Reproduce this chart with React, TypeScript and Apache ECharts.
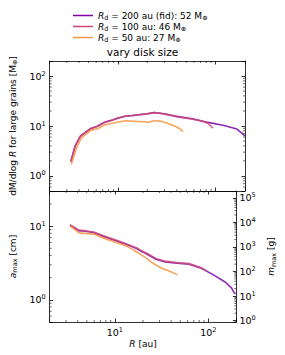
import React, { useEffect, useRef } from 'react';
import * as echarts from 'echarts';

const FONT = 'DejaVu Sans';
const NAMES = ['Rd200', 'Rd100', 'Rd50'];
const COLORS = ['#7e03a8', '#cc4778', '#f89540'];
const LEGEND_LABELS = [
  '{i|R}{sub|d}{t| = 200 au (fid): 52 M}{sub|⊕}',
  '{i|R}{sub|d}{t| = 100 au: 46 M}{sub|⊕}',
  '{i|R}{sub|d}{t| = 50 au: 27 M}{sub|⊕}',
];
const TITLE = 'vary disk size';

// top panel: dM/dlog R for large grains [M_earth]
const r200Top = [3.3, 3.64, 4.13, 4.56, 5.28, 6.14, 7.4, 8.94, 10, 12, 14, 17, 20, 23.6, 29.5, 40, 58, 84, 122, 165, 187, 200];
const dm200 = [1.95, 3.96, 6.25, 7.3, 8.9, 9.9, 12.0, 13.3, 14.4, 15.8, 16.2, 17.0, 17.6, 18.6, 17.6, 15.6, 14.0, 11.8, 10.2, 8.7, 7.1, 6.3];
const r100Top = [3.3, 3.64, 4.13, 4.56, 5.28, 6.14, 7.4, 8.94, 10, 12, 14, 17, 20, 23.6, 29.5, 40, 58, 72, 84, 94];
const dm100 = [1.9, 3.9, 6.2, 7.2, 8.8, 9.8, 11.9, 13.2, 14.3, 15.7, 16.1, 16.9, 17.5, 18.5, 17.5, 15.4, 13.7, 12.6, 11.2, 9.1];
const r50Top = [3.33, 3.78, 4.23, 5.28, 6.14, 7.4, 8.94, 12, 15.1, 18.9, 20.3, 23.6, 27.5, 31.8, 38.5, 43, 46.4];
const dm50 = [1.72, 3.69, 5.8, 8.2, 8.75, 10.6, 11.5, 12.7, 12.4, 12.2, 11.8, 12.9, 12.4, 11.5, 9.9, 8.8, 7.7];

// bottom panel: a_max [cm]
const r200Bot = [3.3, 4.13, 4.56, 5.92, 7.69, 11.2, 14, 17.5, 18.9, 21.9, 27.5, 34.4, 46.4, 62.4, 84.3, 113.8, 153, 178, 189, 196];
const a200 = [10.3, 8.64, 8.6, 8.2, 7.2, 6.1, 5.5, 4.9, 4.6, 4.18, 3.55, 3.26, 3.13, 3.04, 2.68, 2.18, 1.73, 1.44, 1.25, 1.2];
const r100Bot = [3.3, 4.13, 4.56, 5.92, 7.69, 11.2, 14, 17.5, 18.9, 21.9, 27.5, 34.4, 46.4, 62.4, 84.3, 94];
const a100 = [10.5, 8.8, 8.75, 8.35, 7.35, 6.25, 5.6, 5.0, 4.7, 4.3, 3.65, 3.35, 3.2, 3.1, 2.72, 2.5];
const r50Bot = [3.33, 4.13, 5.92, 7.69, 11.2, 14, 17, 18.9, 21.9, 25.5, 31.8, 39.8, 47];
const a50 = [10.0, 8.1, 7.8, 6.8, 5.8, 5.2, 4.5, 4.1, 3.66, 3.13, 2.68, 2.41, 2.18];

// axis ranges
const X_RANGE = [2, 200];
const Y_TOP_RANGE = [0.5, 200];
const A_RANGE = [0.5, 30];
const M_RANGE = [0.877, 1.894e5];

const pairs = (xs: number[], ys: number[]) => xs.map((x, i) => [x, ys[i]]);

const minorTicks = (min: number, max: number) => {
  const out: number[] = [];
  for (let e = Math.floor(Math.log10(min)); e <= Math.ceil(Math.log10(max)); e++) {
    for (let m = 2; m <= 9; m++) {
      const v = m * Math.pow(10, e);
      if (v > min * 1.0001 && v < max * 0.9999) out.push(v);
    }
  }
  return out;
};

const powLabel = (v: number) => {
  const l = Math.log10(v);
  const e = Math.round(l);
  if (Math.abs(l - e) > 1e-6) return '';
  return `{b|10}{sup|${e}}`;
};

const tickRich = {
  b: { fontSize: 9.5, fontFamily: FONT, color: '#000', lineHeight: 12 },
  sup: { fontSize: 6.5, fontFamily: FONT, color: '#000', verticalAlign: 'top', lineHeight: 12 },
};
const nameRich = {
  t: { fontSize: 9, fontFamily: FONT, color: '#000', lineHeight: 12 },
  i: { fontSize: 9, fontFamily: FONT, color: '#000', fontStyle: 'italic', lineHeight: 12 },
  sub: { fontSize: 6.5, fontFamily: FONT, color: '#000', verticalAlign: 'bottom', lineHeight: 12 },
};
const legendRich = {
  t: { fontSize: 9, fontFamily: FONT, color: '#000', lineHeight: 11 },
  i: { fontSize: 9, fontFamily: FONT, color: '#000', fontStyle: 'italic', lineHeight: 11 },
  sub: { fontSize: 6.5, fontFamily: FONT, color: '#000', verticalAlign: 'bottom', lineHeight: 11 },
};

const baseAxis = (extra: any) => ({
  type: 'log',
  logBase: 10,
  axisLine: { show: true, onZero: false, lineStyle: { color: '#000', width: 0.8 } },
  axisTick: { show: true, inside: true, length: 3.5, lineStyle: { color: '#000', width: 0.8 } },
  axisLabel: { show: false },
  splitLine: { show: false },
  ...extra,
});

const tickSeries = (xAxisIndex: number, yAxisIndex: number, xt: number[], yt: number[], sidesX: number, sidesY: number, xMid: number, yMid: number) => ({
  type: 'custom',
  xAxisIndex,
  yAxisIndex,
  silent: true,
  clip: false,
  data: [
    ...xt.map((v) => [v, yMid, sidesX, 0]),
    ...yt.map((v) => [xMid, v, sidesY, 1]),
  ],
  encode: { x: 0, y: 1 },
  renderItem: (params: any, api: any) => {
    const cs = params.coordSys;
    const sides = api.value(2);
    const isY = api.value(3) === 1;
    const p = api.coord([api.value(0), api.value(1)]);
    const L = 2;
    const style = { stroke: '#000', lineWidth: 0.6 };
    const children: any[] = [];
    if (!isY) {
      const x = p[0];
      if (sides & 1) children.push({ type: 'line', shape: { x1: x, y1: cs.y + cs.height, x2: x, y2: cs.y + cs.height - L }, style });
      if (sides & 2) children.push({ type: 'line', shape: { x1: x, y1: cs.y, x2: x, y2: cs.y + L }, style });
    } else {
      const y = p[1];
      if (sides & 4) children.push({ type: 'line', shape: { x1: cs.x, y1: y, x2: cs.x + L, y2: y }, style });
      if (sides & 8) children.push({ type: 'line', shape: { x1: cs.x + cs.width, y1: y, x2: cs.x + cs.width - L, y2: y }, style });
    }
    return { type: 'group', children };
  },
});

const lineSeries = (name: string, color: string, data: number[][], xAxisIndex: number, yAxisIndex: number) => ({
  type: 'line',
  name,
  data,
  xAxisIndex,
  yAxisIndex,
  symbol: 'none',
  lineStyle: { color, width: 1.6, opacity: 0.85 },
  itemStyle: { color },
  emphasis: { disabled: true },
});

const legendFor = (i: number, top: number) => ({
  data: [NAMES[i]],
  orient: 'vertical',
  left: 73,
  top,
  padding: 0,
  itemWidth: 20,
  itemHeight: 1.5,
  itemGap: 0,
  icon: 'rect',
  selectedMode: false,
  formatter: (name: string) => LEGEND_LABELS[NAMES.indexOf(name)],
  textStyle: { fontSize: 9, fontFamily: FONT, color: '#000', lineHeight: 11, rich: legendRich },
});

export default function App() {
  const ref = useRef<HTMLDivElement>(null);
  useEffect(() => {
    if (!ref.current) return;
    const chart = echarts.init(ref.current, undefined, { renderer: 'svg' });
    const xMinor = minorTicks(X_RANGE[0], X_RANGE[1]);
    const option: any = {
      animation: false,
      backgroundColor: '#fff',
      title: {
        text: TITLE,
        left: 'center',
        top: 41,
        textStyle: { fontSize: 10.5, fontWeight: 'normal', fontFamily: FONT, color: '#000' },
      },
      legend: [legendFor(0, 10), legendFor(1, 21), legendFor(2, 32)],
      grid: [
        { left: 40, top: 61, width: 205, height: 130 },
        { left: 40, top: 191, width: 205, height: 131 },
      ],
      xAxis: [
        baseAxis({ gridIndex: 0, position: 'bottom', min: X_RANGE[0], max: X_RANGE[1] }),
        baseAxis({ gridIndex: 0, position: 'top', min: X_RANGE[0], max: X_RANGE[1] }),
        baseAxis({
          gridIndex: 1, position: 'bottom', min: X_RANGE[0], max: X_RANGE[1],
          axisLabel: { show: true, formatter: powLabel, rich: tickRich, margin: 4 },
          name: '{i|R}{t| [au]}', nameLocation: 'middle', nameGap: 16,
          nameTextStyle: { rich: nameRich },
        }),
        baseAxis({ gridIndex: 1, position: 'top', min: X_RANGE[0], max: X_RANGE[1] }),
      ],
      yAxis: [
        baseAxis({
          gridIndex: 0, position: 'left', min: Y_TOP_RANGE[0], max: Y_TOP_RANGE[1],
          axisLabel: { show: true, formatter: powLabel, rich: tickRich, margin: 4 },
          name: '{t|dM/dlog }{i|R}{t| for large grains [M}{sub|⊕}{t|]}', nameLocation: 'middle', nameGap: 22,
          nameTextStyle: { rich: nameRich },
        }),
        baseAxis({ gridIndex: 0, position: 'right', min: Y_TOP_RANGE[0], max: Y_TOP_RANGE[1] }),
        baseAxis({
          gridIndex: 1, position: 'left', min: A_RANGE[0], max: A_RANGE[1],
          axisLabel: { show: true, formatter: powLabel, rich: tickRich, margin: 4 },
          name: '{i|a}{sub|max}{t| [cm]}', nameLocation: 'middle', nameGap: 22,
          nameTextStyle: { rich: nameRich },
        }),
        baseAxis({
          gridIndex: 1, position: 'right', min: M_RANGE[0], max: M_RANGE[1],
          axisLabel: { show: true, formatter: powLabel, rich: tickRich, margin: 3 },
          name: '{i|m}{sub|max}{t| [g]}', nameLocation: 'middle', nameGap: 22,
          nameTextStyle: { rich: nameRich },
        }),
      ],
      series: [
        lineSeries(NAMES[0], COLORS[0], pairs(r200Top, dm200), 0, 0),
        lineSeries(NAMES[1], COLORS[1], pairs(r100Top, dm100), 0, 0),
        lineSeries(NAMES[2], COLORS[2], pairs(r50Top, dm50), 0, 0),
        lineSeries(NAMES[0], COLORS[0], pairs(r200Bot, a200), 2, 2),
        lineSeries(NAMES[1], COLORS[1], pairs(r100Bot, a100), 2, 2),
        lineSeries(NAMES[2], COLORS[2], pairs(r50Bot, a50), 2, 2),
        tickSeries(0, 0, xMinor, minorTicks(Y_TOP_RANGE[0], Y_TOP_RANGE[1]), 3, 12, 10, 1),
        tickSeries(2, 2, xMinor, minorTicks(A_RANGE[0], A_RANGE[1]), 3, 4, 10, 1),
        tickSeries(2, 3, [], minorTicks(M_RANGE[0], M_RANGE[1]), 0, 8, 10, 1),
      ],
    };
    chart.setOption(option);
    return () => chart.dispose();
  }, []);
  return <div ref={ref} style={{ position: 'fixed', left: 0, top: 0, width: 285, height: 355 }} />;
}
